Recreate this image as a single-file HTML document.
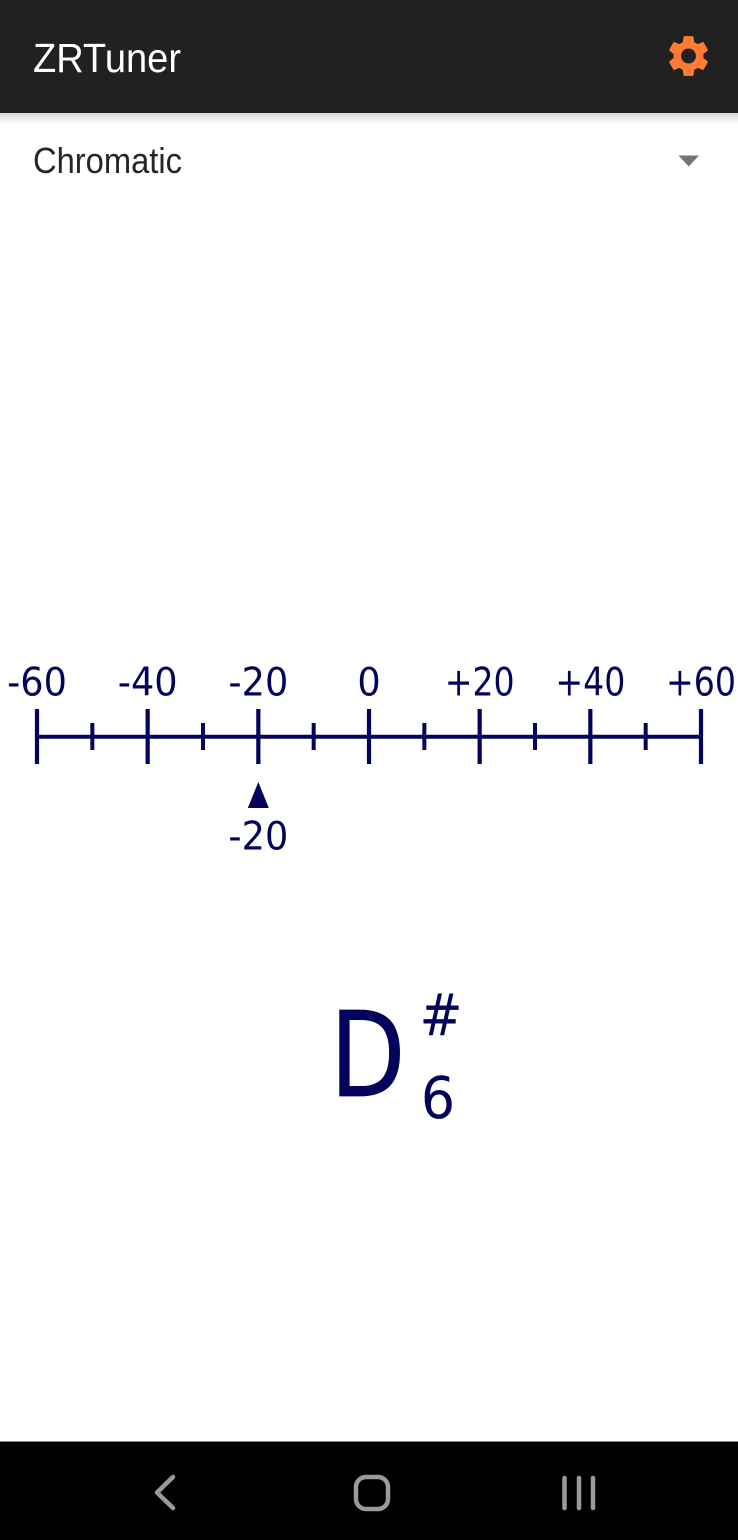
<!DOCTYPE html>
<html lang="en">
<head>
<meta charset="utf-8">
<title>ZRTuner</title>
<style>
html,body{margin:0;padding:0;background:#fff;width:738px;height:1540px;overflow:hidden}
svg{display:block;position:absolute;left:0;top:0}
.sans{font-family:"DejaVu Sans","Liberation Sans",sans-serif}
.ui{font-family:"Liberation Sans","DejaVu Sans",sans-serif}
</style>
</head>
<body>
<svg id="stage" width="738" height="1540" viewBox="0 0 738 1540" xmlns="http://www.w3.org/2000/svg">
  <defs>
    <linearGradient id="shadow" x1="0" y1="0" x2="0" y2="1">
      <stop offset="0" stop-color="#000" stop-opacity="0.16"/>
      <stop offset="1" stop-color="#000" stop-opacity="0"/>
    </linearGradient>
  </defs>
  <rect x="0" y="0" width="738" height="1540" fill="#fff"/>
  <rect x="0" y="113" width="738" height="11" fill="url(#shadow)"/>
  <rect x="0" y="0" width="738" height="113" fill="#212121"/>
  <text class="ui" x="33" y="72" font-size="41" fill="#fff" textLength="148" lengthAdjust="spacingAndGlyphs">ZRTuner</text>
  <path transform="translate(663.6,31.1) scale(2.075)" fill="#ff7b36" fill-rule="evenodd" d="M19.14,12.94c0.04-0.3,0.06-0.61,0.06-0.94c0-0.32-0.02-0.64-0.07-0.94l2.03-1.58c0.18-0.14,0.23-0.41,0.12-0.61 l-1.92-3.32c-0.12-0.22-0.37-0.29-0.59-0.22l-2.39,0.96c-0.5-0.38-1.03-0.7-1.62-0.94L14.4,2.81c-0.04-0.24-0.24-0.41-0.48-0.41 h-3.84c-0.24,0-0.43,0.17-0.47,0.41L9.25,5.35C8.66,5.59,8.12,5.92,7.63,6.29L5.24,5.33c-0.22-0.08-0.47,0-0.59,0.22L2.74,8.87 C2.62,9.08,2.66,9.34,2.86,9.48l2.03,1.58C4.84,11.36,4.8,11.69,4.8,12s0.02,0.64,0.07,0.94l-2.03,1.58 c-0.18,0.14-0.23,0.41-0.12,0.61l1.92,3.32c0.12,0.22,0.37,0.29,0.59,0.22l2.39-0.96c0.5,0.38,1.03,0.7,1.62,0.94l0.36,2.54 c0.05,0.24,0.24,0.41,0.48,0.41h3.84c0.24,0,0.44-0.17,0.47-0.41l0.36-2.54c0.59-0.24,1.13-0.56,1.62-0.94l2.39,0.96 c0.22,0.08,0.47,0,0.59-0.22l1.92-3.32c0.12-0.22,0.07-0.47-0.12-0.61L19.14,12.94z M12,15.6c-1.98,0-3.6-1.62-3.6-3.6 s1.62-3.6,3.6-3.6s3.6,1.62,3.6,3.6S13.98,15.6,12,15.6z"/>

  <g>
    <text class="ui" x="33" y="173" font-size="36" fill="#262626" textLength="149" lengthAdjust="spacingAndGlyphs">Chromatic</text>
    <polygon points="678.5,155.5 699,155.5 688.7,166.5" fill="#757575"/>
  </g>

  <g id="gauge"></g>

  <g>
    <text class="sans" transform="translate(330,1096) scale(0.83,1)" font-size="118" fill="#03035c" stroke="#03035c" stroke-width="0.8">D</text>
    <text class="sans" x="441" y="1035" font-size="58" fill="#03035c" text-anchor="middle" textLength="43" lengthAdjust="spacingAndGlyphs">#</text>
    <text class="sans" transform="translate(438,1118) scale(0.93,1)" font-size="58" fill="#03035c" text-anchor="middle">6</text>
  </g>

  <g>
    <rect x="0" y="1441" width="738" height="99" fill="#000"/>
    <rect x="0" y="1441" width="738" height="1" fill="#8a8a8a"/>
    <polyline points="173,1477 157,1492.5 173,1508" fill="none" stroke="#9a9a9a" stroke-width="4.5" stroke-linecap="round" stroke-linejoin="round"/>
    <rect x="356" y="1477" width="32" height="32" rx="10" fill="none" stroke="#9a9a9a" stroke-width="4.5"/>
    <g stroke="#9a9a9a" stroke-width="4.5" stroke-linecap="round">
      <line x1="564.5" y1="1478" x2="564.5" y2="1508"/>
      <line x1="579" y1="1478" x2="579" y2="1508"/>
      <line x1="593" y1="1478" x2="593" y2="1508"/>
    </g>
  </g>
</svg>
<script>
var majorTicks = [-60, -40, -20, 0, 20, 40, 60];
var minorTicks = [-50, -30, -10, 10, 30, 50];
var tickLabels = ['-60', '-40', '-20', '0', '+20', '+40', '+60'];
var currentCents = [-20];
var currentLabel = ['-20'];

var NS = 'http://www.w3.org/2000/svg';
var COLOR = '#03035c';
var gauge = document.getElementById('gauge');

function xScale(v) {
  var domainMin = -60, domainMax = 60, rangeMin = 37, rangeMax = 701;
  return rangeMin + (v - domainMin) / (domainMax - domainMin) * (rangeMax - rangeMin);
}

function drawLine(x1, y1, x2, y2, w) {
  var l = document.createElementNS(NS, 'line');
  l.setAttribute('x1', x1);
  l.setAttribute('y1', y1);
  l.setAttribute('x2', x2);
  l.setAttribute('y2', y2);
  l.setAttribute('stroke', COLOR);
  l.setAttribute('stroke-width', w);
  gauge.appendChild(l);
  return l;
}

function drawText(x, y, s) {
  var squeeze = s.charAt(0) === '+' ? 0.85 : 0.94;
  var t = document.createElementNS(NS, 'text');
  t.setAttribute('transform', 'translate(' + x + ',' + y + ') scale(' + squeeze + ',1)');
  t.setAttribute('class', 'sans');
  t.setAttribute('font-size', '39');
  t.setAttribute('fill', COLOR);
  t.setAttribute('text-anchor', 'middle');
  t.textContent = s;
  gauge.appendChild(t);
  return t;
}

var axisLine = drawLine(xScale(majorTicks[0]), 736.7, xScale(majorTicks[majorTicks.length - 1]), 736.7, 4);



majorTicks.forEach(function (v, i) {
  var tick = drawLine(xScale(v), 709, xScale(v), 764, 4.2);
  
  
  var label = drawText(xScale(v), 695.5, tickLabels[i]);
  
  
});

minorTicks.forEach(function (v) {
  var tick = drawLine(xScale(v), 723, xScale(v), 750, 4);
  
  
});

var px = xScale(currentCents[0]);
var pointer = document.createElementNS(NS, 'polygon');
pointer.setAttribute('points', (px - 10.5) + ',808 ' + px + ',782 ' + (px + 10.5) + ',808');
pointer.setAttribute('fill', COLOR);


gauge.appendChild(pointer);

var readout = drawText(px, 849.5, currentLabel[0]);


</script>
</body>
</html>
